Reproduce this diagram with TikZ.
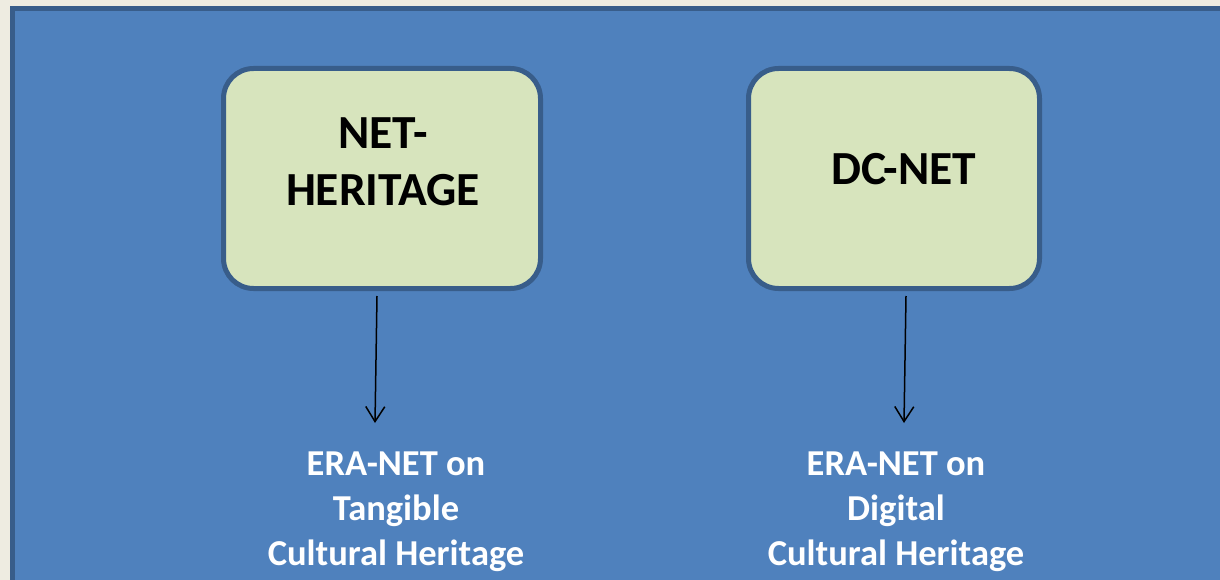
\documentclass[tikz,border=0pt]{standalone}
\usepackage{fontspec}
\setmainfont{Carlito}
\usepackage{tikz}
\usetikzlibrary{arrows.meta,positioning,calc}
\definecolor{paper}{HTML}{EEECE1}
\definecolor{panelblue}{HTML}{4F81BD}
\definecolor{edgeblue}{HTML}{385D8A}
\definecolor{boxgreen}{HTML}{D7E4BD}
\tikzstyle{panel}=[draw=edgeblue,fill=panelblue,line width=5pt]
\tikzstyle{greenbox}=[draw=edgeblue,fill=boxgreen,line width=5pt,rounded corners=30pt,minimum height=220pt,inner sep=0pt]
\tikzstyle{boxtext}=[align=center,inner sep=0pt,font=\fontsize{47.5}{57}\selectfont\bfseries]
\tikzstyle{eralabel}=[align=center,inner sep=0pt,text=white,font=\fontsize{36.5}{45}\selectfont\bfseries]
\tikzstyle{pointer}=[black,line width=1.5pt,-{Straight Barb[length=15pt,width=19pt]}]

\begin{document}
\begin{tikzpicture}[x=1pt,y=-1pt]
\useasboundingbox (0,0) rectangle (1220,580);
\fill[paper] (0,0) rectangle (1220,580);
\clip (0,0) rectangle (1220,580);
\draw[panel] (12.5,8.5) rectangle (1240,600);
% the two networks
\node [greenbox,minimum width=317pt] (nhbox) at (382,178.5) {};
\node [greenbox,minimum width=291pt] (dcbox) at (894,178.5) {};
\node [boxtext] (nhtitle) at (383,161.5) {NET-\\HERITAGE};
\node [boxtext] (dctitle) at (904,169) {DC-NET};
% what they became
\node [eralabel] (tangible) at (396,512) {ERA-NET on\\Tangible\\Cultural Heritage};
\node [eralabel] (digital) at (896,512) {ERA-NET on\\Digital\\Cultural Heritage};
\coordinate (nhfoot) at (377,296);
\coordinate (nhtip) at (375,423);
\coordinate (dcfoot) at (906,296);
\coordinate (dctip) at (904,423);
\draw [pointer] (nhfoot) -- (nhtip);
\draw [pointer] (dcfoot) -- (dctip);
\end{tikzpicture}
\end{document}
